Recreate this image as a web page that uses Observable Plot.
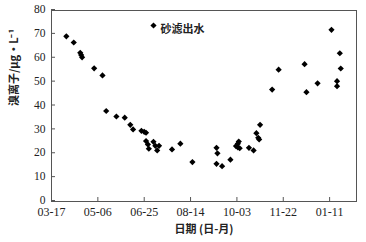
<!DOCTYPE html>
<html><head><meta charset="utf-8">
<script src="https://cdn.jsdelivr.net/npm/d3@7"></script>
<script src="https://cdn.jsdelivr.net/npm/@observablehq/plot@0.6"></script>
<style>body{margin:0;background:#fff}</style>
</head><body><div id="chart"></div>
<script>
const dates = ["2010-04-02","2010-04-10","2010-04-17","2010-04-18","2010-04-19","2010-05-02","2010-05-11","2010-05-15","2010-05-26","2010-06-04",
"2010-06-10","2010-06-13","2010-06-22","2010-06-25","2010-06-27","2010-06-27","2010-06-29","2010-06-30","2010-07-05","2010-07-07",
"2010-07-09","2010-07-11","2010-07-25","2010-08-03","2010-08-16","2010-09-11","2010-09-12","2010-09-11","2010-09-17","2010-09-26",
"2010-10-02","2010-10-04","2010-10-05","2010-10-04","2010-10-06","2010-10-16","2010-10-21","2010-10-24","2010-10-26","2010-10-27",
"2010-10-28","2010-11-10","2010-11-17","2010-12-15","2010-12-17","2010-12-29","2011-01-13","2011-01-22","2011-01-23","2011-01-19","2011-01-19"];
const bromide = [69.2,66.6,62.3,61.4,60.4,55.8,52.8,37.9,35.6,35.1,
32.1,30.2,29.6,29.2,28.8,25.3,23.9,22.1,25.0,23.3,
21.4,23.3,21.8,24.2,16.5,22.5,20.2,15.8,14.8,17.5,
23.2,24.2,25.1,22.7,22.3,22.5,21.4,28.6,26.7,26.0,
32.1,46.9,55.2,57.5,45.8,49.5,71.9,62.1,55.7,50.4,48.3];
const xTicks = ["2010-03-17","2010-05-06","2010-06-25","2010-08-14","2010-10-03","2010-11-22","2011-01-11"];
const xDomain = ["2010-03-17","2011-02-09"];
const yTicks = [0,10,20,30,40,50,60,70,80];
const seriesName = "砂滤出水";
const xTitle = "日期 (日-月)";
const yTitle = "溴离子/μg·L⁻¹";

const data = dates.map((d,i)=>({date:new Date(d), v:bromide[i]}));
const ink = "#222";
const serif = "'Liberation Serif', 'DejaVu Serif', serif";
const cjk = "'Noto Sans CJK SC', sans-serif";
const chart = Plot.plot({
  width:366, height:242,
  marginLeft:51, marginRight:10, marginTop:10, marginBottom:41,
  style:{fontFamily:serif, fontSize:"12px", color:ink, background:"#fff"},
  x:{type:"utc", domain:xDomain.map(d=>new Date(d))},
  y:{domain:[0,80]},
  marks:[
    Plot.frame({stroke:"#555"}),
    Plot.axisX({ticks:xTicks.map(d=>new Date(d)), tickFormat:d3.utcFormat("%m-%d"), tickSize:-4, tickPadding:10, stroke:"#555",
      label:null, fontSize:12, fontFamily:serif, fill:ink}),
    Plot.axisY({ticks:yTicks, tickSize:-4, tickPadding:10, stroke:"#555", label:null, fontSize:11.5, dy:-1, fontFamily:serif, fill:ink}),
    Plot.text([xTitle], {frameAnchor:"bottom", dy:31, fontFamily:cjk, fontWeight:"bold", fontSize:11, fill:ink}),
    Plot.text([yTitle], {frameAnchor:"left", dx:-37, rotate:-90, fontFamily:cjk, fontWeight:"bold", fontSize:11, fill:ink}),
    Plot.dot(data, {x:"date", y:"v", symbol:"diamond2", r:2.8, fill:"#000", stroke:"none"}),
    Plot.dot([seriesName], {frameAnchor:"top-left", dx:102, dy:15, symbol:"diamond2", r:2.8, fill:"#000", stroke:"none"}),
    Plot.text([seriesName], {frameAnchor:"top-left", dx:109, dy:15, textAnchor:"start", fontFamily:cjk, fontWeight:"bold", fontSize:11, fill:ink})
  ]
});
document.getElementById("chart").appendChild(chart);
</script></body></html>
